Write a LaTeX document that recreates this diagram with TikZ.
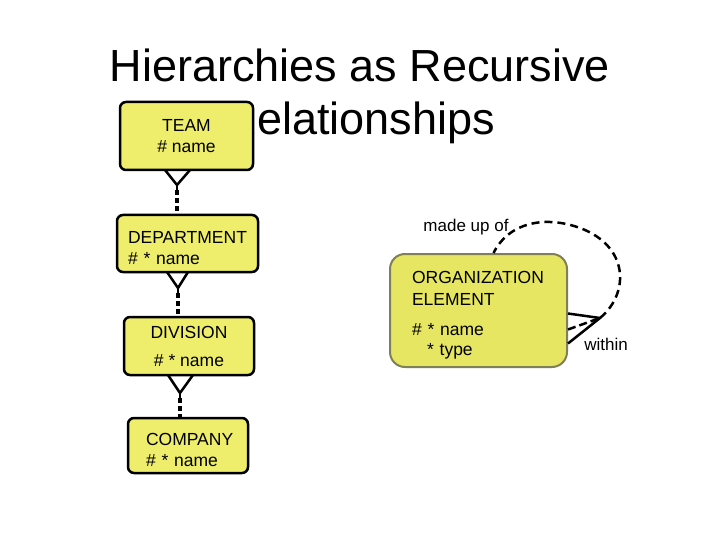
\documentclass[tikz,border=0pt]{standalone}
\usepackage{fontspec}
\setmainfont{Liberation Sans}
\usepackage{xcolor}
\usepackage{tikz}
\usetikzlibrary{arrows.meta,positioning}
\definecolor{entyellow}{RGB}{238,238,108}
\definecolor{orgyellow}{RGB}{230,230,98}
\definecolor{orgborder}{RGB}{128,128,88}

\begin{document}
\begin{tikzpicture}[x=1pt,y=-1pt,line join=round]
\tikzstyle{entity}=[draw,line width=2.5pt,rounded corners=6pt,fill=entyellow,inner ysep=2pt,font=\fontsize{17.5}{21}\selectfont,execute at begin node=\rule{0pt}{22pt}]
\tikzstyle{orgbox}=[draw=orgborder,line width=2pt,rounded corners=15pt,fill=orgyellow,inner ysep=2pt,font=\fontsize{17.5}{22}\selectfont,execute at begin node=\rule{0pt}{22pt}]
\tikzstyle{foot}=[line width=2.5pt]
\tikzstyle{rel}=[line width=3.5pt,dash pattern=on 5pt off 3pt]
\tikzstyle{recur}=[line width=2.5pt,dash pattern=on 8pt off 5pt]
\tikzstyle{lbl}=[inner sep=0pt,font=\fontsize{17}{20}\selectfont]
\useasboundingbox (0,0) rectangle (720,540);
% title
\node[inner sep=0pt,align=center,font=\fontsize{45}{53}\selectfont] (title) at (360,96) {Hierarchies as Recursive\\Relationships};
% hierarchy
\node[entity,minimum width=133pt,minimum height=68pt,align=center] (team) at (186.5,136) {TEAM\\\# name};
\node[entity,minimum height=57pt,inner xsep=11pt,text width=119pt,align=left] (dept) at (187.5,243.5) {DEPARTMENT\\\# * name};
\node[entity,minimum width=130pt,minimum height=58pt,align=center] (division) at (189,346) {DIVISION\\[7pt]\# * name};
\node[entity,minimum height=55pt,inner xsep=18pt,text width=84pt,align=left] (company) at (188,445.5) {COMPANY\\\# * name};
\coordinate (tf) at (177,185);
\coordinate (df) at (178,288);
\coordinate (vf) at (180,393);
\draw[foot] (tf) ++(-12,-15) -- (tf) -- ++(13,-15);
\draw[foot] (tf) -- ++(0,5);
\draw[rel] ([yshift=-5pt]tf) -- (tf |- dept.north);
\draw[foot] (df) ++(-11,-16) -- (df) -- ++(10,-16);
\draw[foot] (df) -- ++(0,5);
\draw[rel] ([yshift=-5pt]df) -- (df |- division.north);
\draw[foot] (vf) ++(-12,-18) -- (vf) -- ++(13,-18);
\draw[foot] (vf) -- ++(0,5);
\draw[rel] ([yshift=-5pt]vf) -- (vf |- company.north);
% recursive relationship
\node[orgbox,minimum height=113pt,inner xsep=22pt,text width=133pt,align=left] (orgel) at (478.5,310.5) {ORGANIZATION\\ELEMENT\\[8pt]\# * name\\[-2pt]\hspace{15pt}* type};
\coordinate (rj) at (600,318);
\draw[foot] ([yshift=-3pt]orgel.east) -- (rj) -- ([yshift=-33pt]orgel.east);
\draw[foot,dash pattern=on 8pt off 4pt] ([yshift=-19pt]orgel.east) -- (rj);
\draw[recur] (rj) .. controls (628,295) and (630,250) .. (585,230) .. controls (550,215) and (510,220) .. ([xshift=15pt]orgel.north);
\node[lbl] (madeup) at (466,227) {made up of};
\node[lbl] (within) at (606,344) {within};
\end{tikzpicture}
\end{document}
